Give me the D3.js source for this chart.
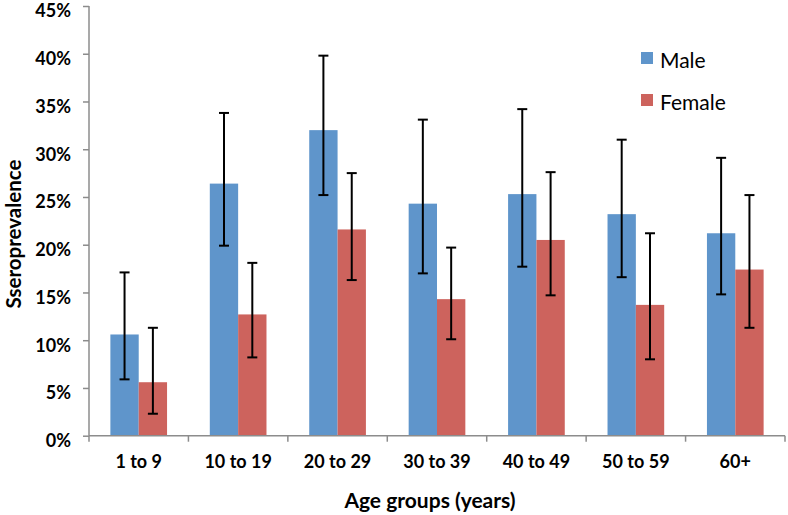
<!DOCTYPE html>
<html><head><meta charset="utf-8">
<script src="https://cdn.jsdelivr.net/npm/d3@7"></script>
<style>body{margin:0;background:#fff}svg{display:block}text{font-family:Lato,"Open Sans",sans-serif}</style>
</head><body>
<svg id="c" width="788" height="515"></svg>
<script>
const categories = ["1 to 9","10 to 19","20 to 29","30 to 39","40 to 49","50 to 59","60+"];
const maleValues   = [10.6, 26.4, 32.0, 24.3, 25.3, 23.2, 21.2];
const maleLower    = [5.9, 19.9, 25.2, 17.0, 17.7, 16.6, 14.8];
const maleUpper    = [17.1, 33.8, 39.8, 33.1, 34.2, 31.0, 29.1];
const femaleValues = [5.6, 12.7, 21.6, 14.3, 20.5, 13.7, 17.4];
const femaleLower  = [2.3, 8.2, 16.3, 10.1, 14.7, 8.0, 11.3];
const femaleUpper  = [11.3, 18.1, 27.5, 19.7, 27.6, 21.2, 25.2];
const yTicks = [0,5,10,15,20,25,30,35,40,45];
const seriesNames = ["Male","Female"];
const colors = ["#5F95CB","#CD635D"];

const svg = d3.select("#c");
const mLeft = 89, mRight = 785, mTop = 6, mBottom = 435.7;
const x = d3.scaleBand().domain(categories).range([mLeft, mRight]);
const y = d3.scaleLinear().domain([0,45]).range([mBottom, mTop]);
const bw = x.bandwidth();
const barW = bw * 0.285;

const series = [
  {name: seriesNames[0], vals: maleValues, lo: maleLower, hi: maleUpper, off: -barW, color: colors[0]},
  {name: seriesNames[1], vals: femaleValues, lo: femaleLower, hi: femaleUpper, off: 0, color: colors[1]}
];

series.forEach(s => {
  svg.append("g").selectAll("rect").data(categories).join("rect")
    .attr("x", (c) => x(c) + bw/2 + s.off)
    .attr("y", (c,i) => y(s.vals[i]))
    .attr("width", barW)
    .attr("height", (c,i) => y(0) - y(s.vals[i]))
    .attr("fill", s.color);
});

// axes
const axisColor = "#8c8c8c";
const yAxis = svg.append("g").attr("transform", `translate(${mLeft},0)`)
  .call(d3.axisLeft(y).tickValues(yTicks).tickFormat(d => d + "%").tickSize(6).tickPadding(12));
yAxis.select(".domain").attr("stroke", axisColor).attr("stroke-width", 1.5).attr("d", `M0,${mTop}V${mBottom}`);
yAxis.selectAll(".tick line").attr("stroke", axisColor).attr("stroke-width", 1.5);
yAxis.selectAll(".tick text").attr("font-size", 18).attr("font-weight", "bold").attr("fill", "#000")
  .attr("font-family", "Lato, sans-serif").attr("dy", "0.6em");

const xAxis = svg.append("g").attr("transform", `translate(0,${mBottom})`);
xAxis.append("line").attr("x1", mLeft).attr("x2", mRight).attr("stroke", axisColor).attr("stroke-width", 1.5);
const bounds = categories.map(c => x(c)).concat([mRight]);
xAxis.selectAll("line.tk").data(bounds).join("line").attr("class","tk")
  .attr("x1", d => d).attr("x2", d => d).attr("y1", 0).attr("y2", 6)
  .attr("stroke", axisColor).attr("stroke-width", 1.5);
xAxis.selectAll("text").data(categories).join("text")
  .attr("x", c => x(c) + bw/2).attr("y", 32.5)
  .attr("text-anchor", "middle").attr("font-size", 18).attr("font-weight", "bold").attr("fill", "#000")
  .text(c => c);

// error bars
series.forEach(s => {
  const g = svg.append("g").attr("stroke", "#000").attr("stroke-width", 2);
  categories.forEach((c,i) => {
    const cx = x(c) + bw/2 + s.off + barW/2;
    g.append("line").attr("x1", cx).attr("x2", cx).attr("y1", y(s.lo[i])).attr("y2", y(s.hi[i]));
    [s.lo[i], s.hi[i]].forEach(v => {
      g.append("line").attr("x1", cx - 5).attr("x2", cx + 5).attr("y1", y(v)).attr("y2", y(v));
    });
  });
});

// axis titles
svg.append("text").attr("x", 430).attr("y", 508).attr("text-anchor", "middle")
  .attr("font-size", 21).attr("font-weight", "bold").text("Age groups (years)");
svg.append("text").attr("transform", "translate(21,234) rotate(-90)").attr("text-anchor", "middle")
  .attr("font-size", 20.5).attr("font-weight", "bold").text("Sseroprevalence");

// legend
const legend = svg.append("g");
series.forEach((s,i) => {
  const ly = 52 + i*42;
  legend.append("rect").attr("x", 641).attr("y", ly).attr("width", 12).attr("height", 12).attr("fill", s.color);
  legend.append("text").attr("x", 660).attr("y", ly + 15.5).attr("font-size", 21).attr("fill", "#000").text(s.name);
});
</script>
</body></html>
